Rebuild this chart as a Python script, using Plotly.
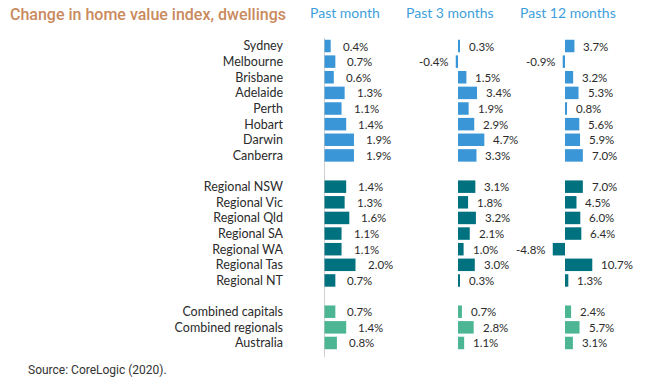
import plotly.graph_objects as go

# ---- data ----
capitals = ["Sydney", "Melbourne", "Brisbane", "Adelaide", "Perth", "Hobart", "Darwin", "Canberra"]
cap_month = [0.4, 0.7, 0.6, 1.3, 1.1, 1.4, 1.9, 1.9]
cap_3m = [0.3, -0.4, 1.5, 3.4, 1.9, 2.9, 4.7, 3.3]
cap_12m = [3.7, -0.9, 3.2, 5.3, 0.8, 5.6, 5.9, 7.0]

regions = ["Regional NSW", "Regional Vic", "Regional Qld", "Regional SA", "Regional WA", "Regional Tas", "Regional NT"]
reg_month = [1.4, 1.3, 1.6, 1.1, 1.1, 2.0, 0.7]
reg_3m = [3.1, 1.8, 3.2, 2.1, 1.0, 3.0, 0.3]
reg_12m = [7.0, 4.5, 6.0, 6.4, -4.8, 10.7, 1.3]

combined = ["Combined capitals", "Combined regionals", "Australia"]
comb_month = [0.7, 1.4, 0.8]
comb_3m = [0.7, 2.8, 1.1]
comb_12m = [2.4, 5.7, 3.1]

panel_titles = ["Past month", "Past 3 months", "Past 12 months"]
title = "Change in home value index, dwellings"
source = "Source: CoreLogic (2020)."

# ---- styling ----
W, H = 651, 384
C_CAP = "#3A96D6"
C_REG = "#00727F"
C_COMB = "#4CB694"
HEAD = "#3E9FDC"
TXT = "#2b2b2b"

spacer1, spacer2 = " ", "  "
cat_order = capitals + [spacer1] + regions + [spacer2] + combined

def px(x):
    return x / W

def py(y):
    return 1 - y / H

# panel geometry (px): domain left, right, zero px, px per %
panels = [(290, 420, 324.5, 15.5), (420, 530, 458, 5.6), (530, 651, 565, 2.55)]
shifts = [10, 7, 7]

groups = [
    (capitals, [cap_month, cap_3m, cap_12m], C_CAP),
    (regions, [reg_month, reg_3m, reg_12m], C_REG),
    (combined, [comb_month, comb_3m, comb_12m], C_COMB),
]

fig = go.Figure()
annotations = []
for pi in range(3):
    xa = "x" if pi == 0 else f"x{pi+1}"
    for cats, series, col in groups:
        vals = series[pi]
        fig.add_trace(go.Bar(
            x=vals, y=cats, orientation="h", xaxis=xa, yaxis="y",
            marker=dict(color=col, line=dict(width=0)), showlegend=False,
            hoverinfo="skip"))
        for c, v in zip(cats, vals):
            annotations.append(dict(
                x=v, y=c, xref=xa, yref="y", text=f"{v:.1f}%", showarrow=False,
                xanchor="left" if v >= 0 else "right",
                xshift=shifts[pi] if v >= 0 else -5,
                font=dict(family="Lato", size=11.5, color=TXT)))

# y geometry (px)
row_px = 15.63
first_px = 46
top_px, bot_px = 38, 357
y_top = -(first_px - top_px) / row_px
y_bot = (bot_px - first_px) / row_px

layout = dict(
    width=W, height=H, margin=dict(l=0, r=0, t=0, b=0),
    paper_bgcolor="white", plot_bgcolor="white",
    bargap=0.2, barmode="overlay",
    yaxis=dict(type="category", categoryorder="array", categoryarray=cat_order,
               range=[y_bot, y_top], domain=[py(bot_px), py(top_px)],
               showgrid=False, zeroline=False, showline=False, ticks="",
               ticklabelstandoff=6,
               tickfont=dict(family="Lato", size=12.5, color=TXT), anchor="x"),
)
for pi, (l, r, z, s) in enumerate(panels):
    key = "xaxis" if pi == 0 else f"xaxis{pi+1}"
    layout[key] = dict(
        domain=[px(l), px(r)], range=[(l - z) / s, (r - z) / s],
        showgrid=False, showticklabels=False, ticks="", showline=False,
        zeroline=(pi == 0), zerolinecolor="#d0d0d0", zerolinewidth=1,
        anchor="y", fixedrange=True)

# headers
head_x = [345, 450, 568]
for t, hx in zip(panel_titles, head_x):
    annotations.append(dict(x=px(hx), y=py(12), xref="paper", yref="paper",
                            text=t, showarrow=False, xanchor="center", yanchor="middle",
                            font=dict(family="Lato", size=14, color=HEAD)))
annotations.append(dict(x=px(8), y=py(14), xref="paper", yref="paper",
                        text=title, showarrow=False, xanchor="left", yanchor="middle",
                        font=dict(family="Roboto", size=16, color="#C98A5E", weight=500)))
annotations.append(dict(x=px(26), y=py(370), xref="paper", yref="paper",
                        text=source, showarrow=False, xanchor="left", yanchor="middle",
                        font=dict(family="Roboto", size=12, color="#333333")))

layout["annotations"] = annotations
fig.update_layout(**layout)
fig.write_html("out.html", config={"displayModeBar": False},
               post_script="document.body.style.margin='0px';")
